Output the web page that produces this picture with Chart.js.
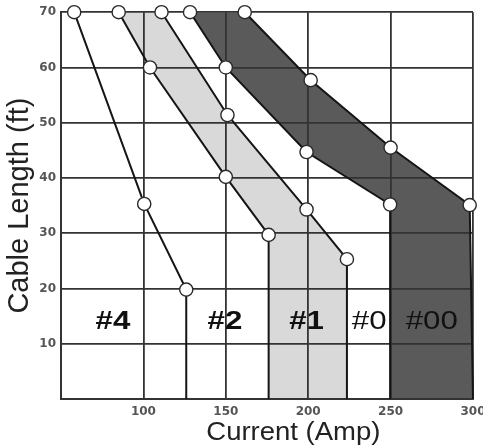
<!DOCTYPE html>
<html>
<head>
<meta charset="utf-8">
<script src="https://cdn.jsdelivr.net/npm/chart.js@4.4.1/dist/chart.umd.min.js"></script>
<style>
  html, body { margin: 0; padding: 0; background: #fff; }
  #wrap { width: 483px; height: 448px; }
</style>
</head>
<body>
<div id="wrap"><canvas id="chart"></canvas></div>
<script>
// boundary lines, last point is where each line meets the x axis
const line4X = [58, 100.5, 126, 126];
const line4Y = [70, 35.3, 19.8, 0];
const lineAX = [85, 104, 150, 176, 176];
const lineAY = [70, 60, 40.2, 29.7, 0];
const lineBX = [111, 151, 199, 223.5, 223.5];
const lineBY = [70, 51.4, 34.3, 25.3, 0];
const lineCX = [128.3, 150, 199, 249.7, 249.7];
const lineCY = [70, 60, 44.7, 35.2, 0];
const lineDX = [161.5, 201.5, 250, 298, 300];
const lineDY = [70, 57.7, 45.5, 35.1, 0];

// wire size labels
const zoneNames = ['#4', '#2', '#1', '#0', '#00'];
const zoneX = [81.5, 149.5, 199, 237, 275];
const zoneY = [13.9, 13.9, 13.9, 13.9, 13.9];
const zoneBold = [true, true, true, false, false];

const xTicks = [100, 150, 200, 250, 300];
const yTicks = [10, 20, 30, 40, 50, 60, 70];
const xTitle = 'Current (Amp)';
const yTitle = 'Cable Length (ft)';

const pts = (xs, ys) => xs.map((x, i) => ({ x: x, y: ys[i] }));
const lightBand = pts(lineAX, lineAY).concat(pts(lineBX, lineBY).reverse());
const darkBand = pts(lineCX, lineCY).concat(pts(lineDX, lineDY).reverse());

const fontFam = "'Liberation Sans', Arial, sans-serif";

const lineStyle = (data) => ({
    data: data,
    showLine: true,
    fill: false,
    borderColor: '#151515',
    borderWidth: 2,
    pointRadius: ctx => (ctx.raw && ctx.raw.y === 0 ? 0 : 6.6),
    pointBackgroundColor: '#fff',
    pointBorderColor: '#2a2a2a',
    pointBorderWidth: 1.4,
    clip: false
});

// text drawn a bit wider than the font, like the reference
const stretchText = (ctx, text, x, y, sx) => {
    ctx.save();
    ctx.translate(x, y);
    ctx.scale(sx, 1);
    ctx.fillText(text, 0, 0);
    ctx.restore();
};

const extraText = {
    id: 'extraText',
    afterDatasetsDraw(chart) {
        const { ctx, scales } = chart;
        ctx.save();
        ctx.textAlign = 'center';
        ctx.textBaseline = 'middle';
        ctx.fillStyle = '#111';
        zoneNames.forEach((name, i) => {
            ctx.font = (zoneBold[i] ? 'bold ' : '') + '25px ' + fontFam;
            stretchText(ctx, name, scales.x.getPixelForValue(zoneX[i]), scales.y.getPixelForValue(zoneY[i]), 1.25);
        });
        ctx.fillStyle = '#222';
        ctx.font = '25px ' + fontFam;
        stretchText(ctx, xTitle, scales.x.getPixelForValue(191), scales.x.bottom - 15, 1.1);
        ctx.restore();
    }
};

new Chart(document.getElementById('chart'), {
    type: 'scatter',
    data: {
        datasets: [
            { data: lightBand, showLine: true, fill: 'shape', backgroundColor: '#d9d9d9', borderWidth: 0, pointRadius: 0 },
            { data: darkBand, showLine: true, fill: 'shape', backgroundColor: '#5a5a5a', borderWidth: 0, pointRadius: 0 },
            lineStyle(pts(line4X, line4Y)),
            lineStyle(pts(lineAX, lineAY)),
            lineStyle(pts(lineBX, lineBY)),
            lineStyle(pts(lineCX, lineCY)),
            lineStyle(pts(lineDX, lineDY))
        ]
    },
    options: {
        responsive: true,
        maintainAspectRatio: false,
        animation: false,
        layout: { padding: { top: 11, right: 10, left: 0, bottom: 0 } },
        plugins: {
            legend: { display: false },
            tooltip: { enabled: false },
            filler: { drawTime: 'beforeDraw' }
        },
        scales: {
            x: {
                type: 'linear',
                min: 50,
                max: 300,
                afterBuildTicks: s => { s.ticks = [50].concat(xTicks).map(v => ({ value: v })); },
                afterFit: s => { s.height = 49; s.paddingRight = 0; },
                ticks: {
                    callback: v => (v === 50 ? '' : v),
                    color: '#555',
                    padding: 6,
                    font: { family: 'DejaVu Sans', size: 12, weight: 'bold' }
                },
                grid: { color: '#333', lineWidth: 1.8, drawTicks: false },
                border: { color: '#333', width: 2 }
            },
            y: {
                type: 'linear',
                min: 0,
                max: 70,
                afterBuildTicks: s => { s.ticks = [0].concat(yTicks).map(v => ({ value: v })); },
                afterFit: s => { s.width = 61; },
                ticks: {
                    callback: v => (v === 0 ? '' : v),
                    color: '#555',
                    padding: 5,
                    font: { family: 'DejaVu Sans', size: 12, weight: 'bold' }
                },
                grid: { color: '#333', lineWidth: 1.8, drawTicks: false },
                border: { color: '#333', width: 2 },
                title: {
                    display: true,
                    text: yTitle,
                    color: '#222',
                    padding: { top: 3, bottom: 0 },
                    font: { family: fontFam, size: 29 }
                }
            }
        }
    },
    plugins: [extraText]
});
</script>
</body>
</html>
